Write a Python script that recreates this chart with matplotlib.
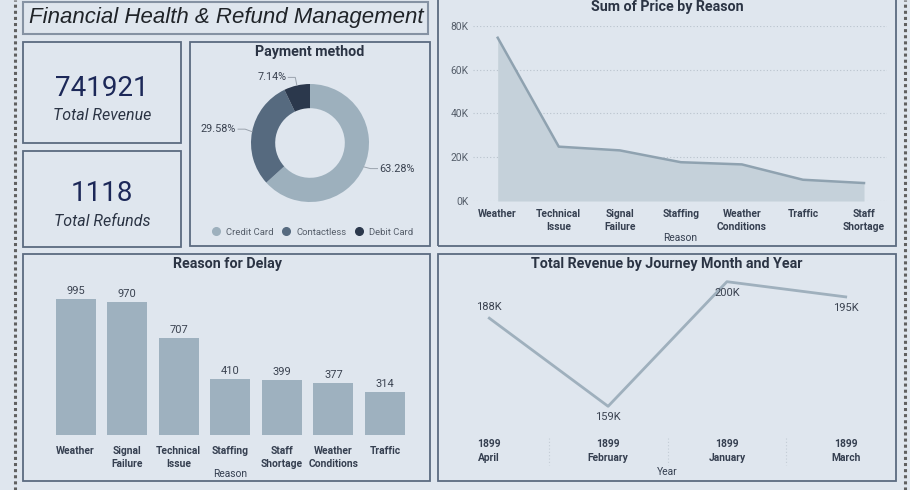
import numpy as np
import matplotlib
matplotlib.use("Agg")
import matplotlib.pyplot as plt
from matplotlib.patches import Rectangle
from matplotlib.lines import Line2D
import matplotlib.transforms as mtransforms

# ---- data ----
kpi_revenue = 741921
kpi_refunds = 1118

pay_methods = ["Credit Card", "Contactless", "Debit Card"]
pay_share = [63.28, 29.58, 7.14]

price_reasons = ["Weather", "Technical\nIssue", "Signal\nFailure", "Staffing",
                 "Weather\nConditions", "Traffic", "Staff\nShortage"]
price_sums = [74500, 24800, 23100, 17700, 16700, 9700, 8200]

delay_reasons = ["Weather", "Signal\nFailure", "Technical\nIssue", "Staffing",
                 "Staff\nShortage", "Weather\nConditions", "Traffic"]
delay_counts = [995, 970, 707, 410, 399, 377, 314]

months = ["1899\nApril", "1899\nFebruary", "1899\nJanuary", "1899\nMarch"]
month_revenue = [188000, 159000, 200000, 195000]

# ---- style ----
W, H = 910, 490
BG = "#dfe6ee"
EDGE = "#5b6b80"
TXT = "#2b3444"
TICK = "#353f50"
plt.rcParams["font.family"] = ["Roboto", "DejaVu Sans"]

fig = plt.figure(figsize=(W / 100, H / 100), dpi=100, facecolor=BG)


def rect(x0, y0, x1, y1):
    return [x0 / W, 1 - y1 / H, (x1 - x0) / W, (y1 - y0) / H]


def ftext(x, y, s, **kw):
    return fig.text(x / W, 1 - y / H, s, **kw)


def panel(x0, y0, x1, y1, ec=EDGE, lw=1.3):
    fig.add_artist(Rectangle((x0 / W, 1 - y1 / H), (x1 - x0) / W, (y1 - y0) / H,
                             transform=fig.transFigure, fill=False, ec=ec, lw=lw))


# dotted page borders
for xx in (15, 905):
    fig.add_artist(Line2D([xx / W, xx / W], [0, 1], transform=fig.transFigure,
                          color="#606060", lw=2.2, ls=(0, (1, 1))))

# title box
panel(23, 2, 428, 34, ec="#8592a3", lw=1.5)
ftext(226, 18, "Financial Health & Refund Management", family="Liberation Sans",
      style="italic", fontsize=16.0, color="#1f2328", ha="center", va="center")

# KPI cards
panel(23, 42, 181, 143)
panel(23, 151, 181, 247)
ftext(102, 88, f"{kpi_revenue}", fontsize=20, color="#1c2858", ha="center", va="center")
ftext(102, 115, "Total Revenue", fontsize=11.5, style="italic", color=TXT,
      ha="center", va="center")
ftext(102, 193, f"{kpi_refunds}", fontsize=20, color="#1c2858", ha="center", va="center")
ftext(102, 222, "Total Refunds", fontsize=11.5, style="italic", color=TXT,
      ha="center", va="center")

# ---- donut ----
panel(190, 42, 430, 246)
ftext(310, 52, "Payment method", fontsize=10.3, weight="bold", color=TXT,
      ha="center", va="center")
pie_colors = ["#9db0bd", "#566a7f", "#2b384c"]
axp = fig.add_axes(rect(200, 70, 420, 215))
wedges, _ = axp.pie(pay_share, colors=pie_colors, startangle=90, counterclock=False,
                    radius=1, wedgeprops=dict(width=0.41, edgecolor="none"))
axp.set_aspect("auto")
axp.set_xlim(-110 / 59, 110 / 59)
axp.set_ylim(-72 / 59, 73 / 59)
axp.axis("off")
for w, share in zip(wedges, pay_share):
    ang = np.deg2rad((w.theta1 + w.theta2) / 2)
    cx, cy = np.cos(ang), np.sin(ang)
    side = 1 if cx >= 0 else -1
    ex, ey = 1.12 * cx, 1.12 * cy + 0.02
    hx = ex + side * 0.12
    axp.plot([cx, ex, hx], [cy, ey, ey], color="#9aa3ad", lw=0.7)
    axp.text(hx + side * 0.03, ey, f"{share:.2f}%", fontsize=7.8, color="#3a4250",
             ha="left" if side > 0 else "right", va="center")
handles = [Line2D([], [], marker="o", ls="", color=c, markersize=5.5) for c in pie_colors]
fig.legend(handles, pay_methods, loc="center", bbox_to_anchor=(310 / W, 1 - 232 / H),
           ncol=3, frameon=False, fontsize=6.8, handletextpad=0.05, columnspacing=0.35,
           labelcolor="#555e6a", borderpad=0)

# ---- area chart ----
panel(438, -2, 896, 246)
ftext(667, 7, "Sum of Price by Reason", fontsize=10.3, weight="bold", color=TXT,
      ha="center", va="center")
axa = fig.add_axes(rect(473, 25.7, 887, 201))
axa.set_facecolor("none")
xa = np.arange(len(price_sums))
axa.fill_between(xa, price_sums, color="#c5d1da", lw=0)
axa.plot(xa, price_sums, color="#8fa2b0", lw=1.8)
axa.set_xlim(-(497.7 - 473) / 61.05, 6 + (887 - 864) / 61.05)
axa.set_ylim(0, 80000)
axa.set_yticks([0, 20000, 40000, 60000, 80000])
axa.set_yticklabels(["0K", "20K", "40K", "60K", "80K"])
axa.set_xticks(xa)
axa.set_xticklabels(price_reasons, fontsize=7.4, weight="bold", color=TICK,
                    linespacing=1.35)
axa.tick_params(axis="y", labelsize=7.4, labelcolor="#555e6a", length=0, pad=3)
axa.tick_params(axis="x", length=0, pad=6)
axa.grid(axis="y", color="#b9c3cd", ls=(0, (1, 2)), lw=0.8)
axa.set_axisbelow(True)
for s in axa.spines.values():
    s.set_visible(False)
ftext(680, 238, "Reason", fontsize=7.4, color=TICK, ha="center", va="center")

# ---- bar chart ----
panel(23, 254, 430, 481)
ftext(227, 264, "Reason for Delay", fontsize=10.3, weight="bold", color=TXT,
      ha="center", va="center")
axb = fig.add_axes(rect(45, 290.1, 415, 435))
axb.set_facecolor("none")
xb = np.arange(len(delay_counts))
bars = axb.bar(xb, delay_counts, width=0.775, color="#9eb1bf")
for b, v in zip(bars, delay_counts):
    axb.text(b.get_x() + b.get_width() / 2, v + 22, str(v), ha="center", va="bottom",
             fontsize=8, color="#3a4250")
axb.set_xlim(-(75.7 - 45) / 51.6, 6 + (415 - 385) / 51.6)
axb.set_ylim(0, 1060)
axb.set_yticks([])
axb.set_xticks(xb)
axb.set_xticklabels(delay_reasons, fontsize=7.4, weight="bold", color=TICK,
                    linespacing=1.35)
axb.tick_params(axis="x", length=0, pad=8)
for s in axb.spines.values():
    s.set_visible(False)
ftext(230, 474, "Reason", fontsize=7.4, color=TICK, ha="center", va="center")

# ---- line chart ----
panel(438, 254, 896, 481)
ftext(667, 264, "Total Revenue by Journey Month and Year", fontsize=10.3, weight="bold",
      color=TXT, ha="center", va="center")
axl = fig.add_axes(rect(440, 275, 894, 432))
axl.set_facecolor("none")
xl = np.arange(len(month_revenue))
axl.plot(xl, month_revenue, color="#9fb0bd", lw=2)
for i, v in enumerate(month_revenue):
    dy = 8 if i == 0 else -8
    axl.annotate(f"{v / 1000:.0f}K", (i, v), xytext=(0, dy), textcoords="offset points",
                 ha="center", va="center", fontsize=8, color="#3a4250")
axl.set_xlim(-(489.3 - 440) / 118.8, 3 + (894 - 845.7) / 118.8)
axl.set_ylim(159000 - (432 - 406.3) / 3.04 * 1000, 200000 + (281.7 - 275) / 3.04 * 1000)
axl.set_yticks([])
axl.set_xticks(xl)
axl.set_xticklabels(months, fontsize=7.4, weight="bold", color=TICK, linespacing=1.45)
axl.tick_params(axis="x", length=0, pad=5)
for s in axl.spines.values():
    s.set_visible(False)
trans = mtransforms.blended_transform_factory(axl.transData, axl.transAxes)
for sx in xl[:-1] + 0.5:
    axl.plot([sx, sx], [-0.04, -0.21], transform=trans, clip_on=False,
             color="#c3ccd5", lw=0.8, ls=(0, (1, 2)))
ftext(667, 472, "Year", fontsize=7.4, color=TICK, ha="center", va="center")

fig.savefig("out.png", dpi=100, facecolor=BG)
